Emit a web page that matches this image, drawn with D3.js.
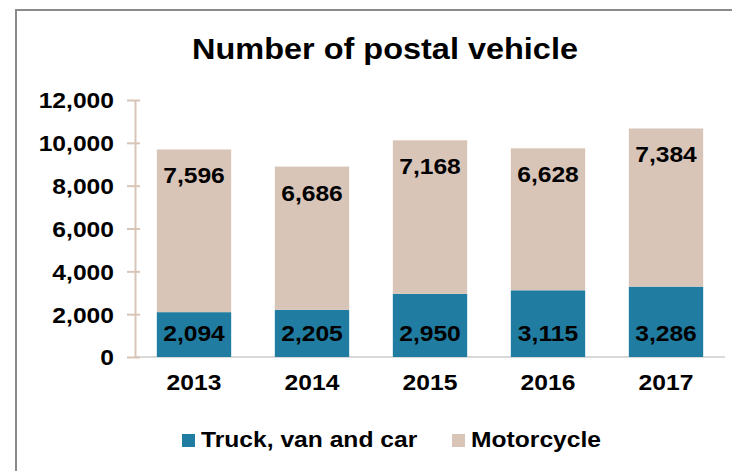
<!DOCTYPE html>
<html>
<head>
<meta charset="utf-8">
<script src="https://cdn.jsdelivr.net/npm/d3@7"></script>
<style>
  html, body { margin: 0; padding: 0; background: #fff; overflow: hidden; width: 732px; height: 471px; }
  svg { display: block; }
  svg text { font-family: "Liberation Sans", Arial, sans-serif; font-weight: bold; fill: #000; }
</style>
</head>
<body>
<div id="viz"></div>
<script>
// chart data
const years = ["2013", "2014", "2015", "2016", "2017"];
const truck = [2094, 2205, 2950, 3115, 3286];
const motorcycle = [7596, 6686, 7168, 6628, 7384];
const yTicks = [0, 2000, 4000, 6000, 8000, 10000, 12000];
const seriesNames = ["Truck, van and car", "Motorcycle"];
const colors = ["#207ca1", "#d8c5b8"];

const width = 732, height = 471;
// the original text is a bit wider than plain Arial
const sx = 1.12;
const place = (px, py) => `translate(${px},${py}) scale(${sx},1)`;

const svg = d3.select("#viz").append("svg")
    .attr("width", width)
    .attr("height", height);

svg.append("rect")
    .attr("width", width)
    .attr("height", height)
    .attr("fill", "#fff");

// outer chart frame: only its left and top edges are inside the picture
svg.append("path")
    .attr("d", `M16,${height} V10 H${width}`)
    .attr("fill", "none")
    .attr("stroke", "#8a8a8a")
    .attr("stroke-width", 2);

// title
svg.append("text")
    .attr("transform", place(385, 59))
    .attr("text-anchor", "middle")
    .style("font-size", "29px")
    .text("Number of postal vehicle");

const x = d3.scaleBand()
    .domain(years)
    .range([135, 725])
    .paddingInner(0.37)
    .paddingOuter(0.185);

const y = d3.scaleLinear()
    .domain([0, 12000])
    .range([357, 100]);

const rows = years.map((yr, i) => ({ year: yr, truck: truck[i], moto: motorcycle[i] }));
const cx = d => x(d.year) + x.bandwidth() / 2;

// baseline
svg.append("line")
    .attr("x1", 135)
    .attr("x2", 725)
    .attr("y1", y(0))
    .attr("y2", y(0))
    .attr("stroke", "#d9d9d9")
    .attr("stroke-width", 2);

// bars
svg.selectAll("rect.truck")
    .data(rows)
    .enter()
    .append("rect")
    .attr("class", "truck")
    .attr("x", d => x(d.year))
    .attr("y", d => y(d.truck))
    .attr("width", x.bandwidth())
    .attr("height", d => y(0) - y(d.truck))
    .attr("fill", colors[0]);

svg.selectAll("rect.moto")
    .data(rows)
    .enter()
    .append("rect")
    .attr("class", "moto")
    .attr("x", d => x(d.year))
    .attr("y", d => y(d.truck + d.moto))
    .attr("width", x.bandwidth())
    .attr("height", d => y(d.truck) - y(d.truck + d.moto))
    .attr("fill", colors[1]);

// value labels
const fmt = d3.format(",");
svg.selectAll("text.lab-truck")
    .data(rows)
    .enter()
    .append("text")
    .attr("class", "lab-truck")
    .attr("transform", d => place(cx(d), y(0) - 16))
    .attr("text-anchor", "middle")
    .style("font-size", "22px")
    .text(d => fmt(d.truck));

svg.selectAll("text.lab-moto")
    .data(rows)
    .enter()
    .append("text")
    .attr("class", "lab-moto")
    .attr("transform", d => place(cx(d), y(d.truck + d.moto) + 34))
    .attr("text-anchor", "middle")
    .style("font-size", "22px")
    .text(d => fmt(d.moto));

// y axis
const yAxis = d3.axisLeft(y)
    .tickValues(yTicks)
    .tickFormat(fmt)
    .tickSizeInner(8)
    .tickSizeOuter(0)
    .tickPadding(20);

const gy = svg.append("g")
    .attr("transform", "translate(135, 0)")
    .call(yAxis);
gy.select(".domain").attr("stroke", "#d8c5b8").attr("stroke-width", 2);
gy.selectAll(".tick line").attr("stroke", "#d8c5b8").attr("stroke-width", 2).attr("x2", 5).attr("x1", -8);
gy.selectAll(".tick text")
    .attr("x", null)
    .attr("dy", "0.36em")
    .attr("transform", place(-21, 0))
    .style("font-size", "22px")
    .attr("fill", "#000");

// x labels
svg.selectAll("text.year")
    .data(years)
    .enter()
    .append("text")
    .attr("class", "year")
    .attr("transform", d => place(x(d) + x.bandwidth() / 2, 390))
    .attr("text-anchor", "middle")
    .style("font-size", "22px")
    .text(d => d);

// legend
const legendX = [182, 452];
seriesNames.forEach((name, i) => {
    svg.append("rect")
        .attr("x", legendX[i])
        .attr("y", 434)
        .attr("width", 13)
        .attr("height", 13)
        .attr("fill", colors[i]);
    svg.append("text")
        .attr("transform", place(legendX[i] + 19, 447))
        .style("font-size", "22px")
        .text(name);
});
</script>
</body>
</html>
